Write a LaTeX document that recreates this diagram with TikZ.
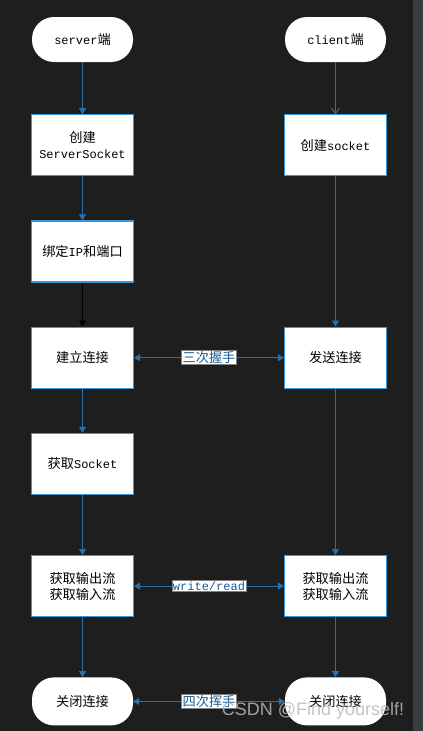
\documentclass[tikz,border=0pt]{standalone}
\usepackage{fontspec}
\setmainfont{Liberation Mono}
\newfontfamily\cjk[Scale=1.1]{Noto Sans CJK SC}
\newfontfamily\wmfont{Liberation Sans}
\usepackage{xcolor}
\usepackage{tikz}
\usetikzlibrary{arrows.meta, positioning}

\definecolor{bgdark}{HTML}{1E1E1E}
\definecolor{bgstrip}{HTML}{393C40}
\definecolor{flowblue}{HTML}{2A6FA8}
\definecolor{boxline}{HTML}{3B95D8}
\definecolor{labelblue}{HTML}{1A5C96}

\begin{document}
\begin{tikzpicture}[
    x=1pt, y=-1pt,
    node distance=44pt,
    terminal/.style={fill=white, rounded corners=22pt, minimum width=101pt,
                     minimum height=45pt, inner sep=0pt, align=center,
                     font=\fontsize{12}{16}\selectfont},
    box/.style={draw=boxline, line width=1.2pt, fill=white, minimum width=102pt,
                minimum height=61pt, inner sep=0pt, align=center,
                font=\fontsize{12}{16}\selectfont},
    edgelabel/.style={fill=white, draw=gray, line width=0.8pt, text=labelblue,
                      inner sep=1pt, font=\fontsize{12}{14}\selectfont},
    arrow/.style={-{Triangle[length=6pt, width=7pt]}, flowblue, line width=1pt},
    openarrow/.style={-{Straight Barb[length=5pt, width=8pt]}, flowblue, line width=1pt},
    both/.style={{Triangle[length=6pt, width=7pt]}-{Triangle[length=6pt, width=7pt]},
                 flowblue, line width=1pt}
]
\useasboundingbox (0,0) rectangle (423,731);
\fill[bgdark]  (0,0)   rectangle (413,731);
\fill[bgstrip] (413,0) rectangle (423,731);

\node[terminal] (server) at (82.5,39.5) {server{\cjk 端}};
\node[box, below=52pt of server] (mkserver) {{\cjk 创建}\\ServerSocket};
\node[box, below=of mkserver]    (bind)     {{\cjk 绑定}IP{\cjk 和端口}};
\node[box, below=of bind]        (accept)   {{\cjk 建立连接}};
\node[box, below=of accept]      (getsock)  {{\cjk 获取}Socket};
\node[box, below=60pt of getsock] (lstream) {{\cjk 获取输出流}\\{\cjk 获取输入流}};
\node[terminal, minimum height=48pt, below=60pt of lstream] (lclose) {{\cjk 关闭连接}};

\node[terminal] (client) at (335.5,39.5) {client{\cjk 端}};
\node[box, below=52pt of client] (mkclient) {{\cjk 创建}socket};
\node[box] (connect) at (accept -| client)  {{\cjk 发送连接}};
\node[box] (rstream) at (lstream -| client) {{\cjk 获取输出流}\\{\cjk 获取输入流}};
\node[terminal, minimum height=48pt] (rclose) at (lclose -| client) {{\cjk 关闭连接}};

\draw[arrow] (server)   -- (mkserver);
\draw[arrow] (mkserver) -- (bind);
\draw[arrow, black] (bind) -- (accept);
\draw[arrow] (accept)   -- (getsock);
\draw[arrow] (getsock)  -- (lstream);
\draw[arrow] (lstream)  -- (lclose);

\draw[openarrow] (client) -- (mkclient);
\draw[arrow] (mkclient) -- (connect);
\draw[arrow] (connect)  -- (rstream);
\draw[arrow] (rstream)  -- (rclose);

\draw[both] (accept)  -- node[edgelabel] {{\cjk 三次握手}} (connect);
\draw[both] (lstream) -- node[edgelabel] {write/read} (rstream);
\draw[both] (lclose)  -- node[edgelabel] {{\cjk 四次挥手}} (rclose);

\node[font=\wmfont\fontsize{18}{20}\selectfont, text=gray!55, text opacity=0.85]
    (watermark) at (313,711) {CSDN @Find yourself!};
\end{tikzpicture}
\end{document}
